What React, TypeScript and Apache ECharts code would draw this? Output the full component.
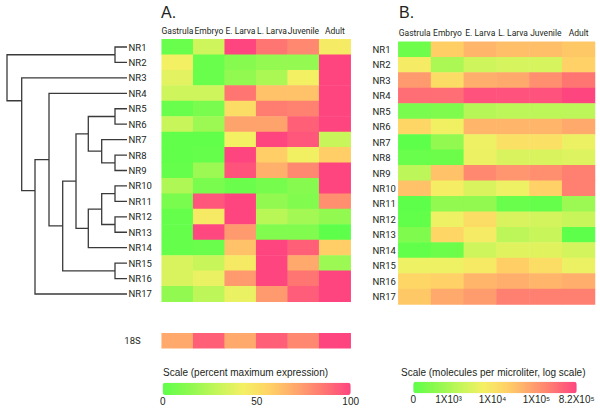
import React, { useEffect, useRef } from 'react';
import * as echarts from 'echarts';

const stages = ['Gastrula', 'Embryo', 'E. Larva', 'L. Larva', 'Juvenile', 'Adult'];
const genes = ['NR1', 'NR2', 'NR3', 'NR4', 'NR5', 'NR6', 'NR7', 'NR8', 'NR9', 'NR10', 'NR11', 'NR12', 'NR13', 'NR14', 'NR15', 'NR16', 'NR17'];

// Panel A: percent of maximum expression (rows = genes, cols = stages)
const percentA: number[][] = [
  [3, 32, 100, 86, 80, 45],
  [43, 3, 12, 16, 16, 100],
  [38, 3, 15, 22, 43, 100],
  [32, 32, 86, 62, 62, 100],
  [3, 8, 52, 84, 82, 100],
  [30, 18, 72, 72, 92, 100],
  [1, 1, 43, 100, 95, 30],
  [1, 2, 100, 58, 42, 58],
  [2, 18, 96, 68, 80, 100],
  [23, 8, 4, 7, 12, 100],
  [8, 95, 100, 15, 10, 78],
  [2, 46, 100, 26, 20, 15],
  [2, 99, 75, 10, 10, 0],
  [2, 4, 62, 100, 92, 58],
  [35, 30, 46, 100, 70, 18],
  [35, 40, 75, 100, 86, 100],
  [15, 27, 40, 75, 93, 100],
];
const percent18S = [70, 92, 70, 92, 80, 100];

// Panel B: log10(molecules per microliter)
const logMoleculesB: number[][] = [
  [2.39, 4.35, 4.65, 4.54, 4.54, 4.43],
  [3.87, 3.02, 3.39, 3.46, 3.46, 4.32],
  [4.99, 4.13, 4.73, 4.80, 5.10, 5.39],
  [5.47, 5.47, 5.77, 5.77, 5.77, 5.91],
  [2.50, 2.57, 3.13, 3.20, 3.20, 3.20],
  [4.24, 3.76, 4.65, 4.65, 4.65, 4.80],
  [2.20, 2.76, 3.72, 4.06, 4.06, 3.69],
  [2.31, 2.35, 3.69, 3.50, 3.50, 3.54],
  [3.20, 4.50, 5.17, 5.02, 5.10, 5.28],
  [4.50, 3.83, 3.50, 3.72, 4.32, 5.28],
  [2.20, 2.76, 2.76, 2.31, 2.27, 2.87],
  [2.24, 3.72, 4.13, 3.50, 3.43, 3.31],
  [2.57, 4.24, 3.87, 3.20, 3.31, 2.20],
  [2.24, 2.35, 3.39, 3.57, 3.57, 3.43],
  [3.72, 3.72, 3.91, 4.35, 4.13, 3.69],
  [4.24, 4.32, 4.65, 4.73, 4.65, 4.73],
  [4.43, 4.80, 4.95, 5.28, 5.28, 5.28],
];
const logMin = 2.2;
const logMax = 5.914;

const scaleATicks = [0, 50, 100];
const scaleBTickValues = [2.2, 3, 4, 5, 5.914];
const scaleBTickLabels = ['0', '1X10³', '1X10⁴', '1X10⁵', '8.2X10⁵'];

// Dendrogram joins: [node id, child A, child B, height, optional anchor (leaf units)]
const treeJoins: [string, string, string, number, number?][] = [
  ['n12', 'NR1', 'NR2', 1.2],
  ['n56', 'NR5', 'NR6', 1.2],
  ['n89', 'NR8', 'NR9', 1.2],
  ['n1011', 'NR10', 'NR11', 1.2],
  ['n1213', 'NR12', 'NR13', 1.2],
  ['n1516', 'NR15', 'NR16', 1.2],
  ['n789', 'NR7', 'n89', 2.53],
  ['n10_13', 'n1011', 'n1213', 2.53],
  ['n5_9', 'n56', 'n789', 3.87],
  ['n10_14', 'n10_13', 'NR14', 3.87],
  ['n5_14', 'n5_9', 'n10_14', 5.1],
  ['n5_16', 'n5_14', 'n1516', 6.43],
  ['n4_16', 'NR4', 'n5_16', 7.8],
  ['n4_17', 'n4_16', 'NR17', 9.2, 9.31],
  ['n3_17', 'NR3', 'n4_17', 10.53, 3.48],
  ['root', 'n12', 'n3_17', 12],
];

const colorRamp = ['#5eff4a', '#8ef94f', '#c3f659', '#f4f064', '#ffd166', '#ffa56d', '#ff7672', '#ff4580'];

const FONT = "Roboto, 'Liberation Sans', sans-serif";
const FONT_REG = "'Liberation Sans', Arial, sans-serif";
const INK = '#231f20';

function buildTree() {
  const pos: Record<string, { x: number; y: number }> = {};
  genes.forEach((g, i) => (pos[g] = { x: 0, y: i }));
  const segs: number[][] = [];
  treeJoins.forEach(([id, a, b, h, anchor]) => {
    const pa = pos[a];
    const pb = pos[b];
    segs.push([h, pa.y, pb.y, pa.x, pb.x]);
    pos[id] = { x: h, y: anchor !== undefined ? anchor : (pa.y + pb.y) / 2 };
  });
  return segs;
}

function toCells(rows: number[][]) {
  const out: number[][] = [];
  rows.forEach((r, yi) => r.forEach((v, xi) => out.push([xi, yi, v])));
  return out;
}

export default function App() {
  const ref = useRef<HTMLDivElement>(null);
  useEffect(() => {
    if (!ref.current) return;
    const chart = echarts.init(ref.current, undefined, { renderer: 'svg' });
    const hidden = { show: false };
    const stageAxisLabel = { margin: 4, fontSize: 8.5, color: INK, fontFamily: FONT, interval: 0 };
    const geneAxisLabel = { margin: 1.5, fontSize: 9.5, color: INK, fontFamily: FONT, interval: 0 };
    const option: any = {
      animation: false,
      backgroundColor: '#ffffff',
      title: [
        { text: 'A.', left: 161, top: 4, padding: 0, textStyle: { fontSize: 16, fontWeight: 'normal', color: INK, fontFamily: FONT_REG } },
        { text: 'B.', left: 399, top: 4, padding: 0, textStyle: { fontSize: 16, fontWeight: 'normal', color: INK, fontFamily: FONT_REG } },
        { text: 'Scale (percent maximum expression)', left: 163, top: 367, padding: 0, textStyle: { fontSize: 10, fontWeight: 'normal', color: INK, fontFamily: FONT_REG } },
        { text: 'Scale (molecules per microliter, log scale)', left: 401, top: 367, padding: 0, textStyle: { fontSize: 10, fontWeight: 'normal', color: INK, fontFamily: FONT_REG } },
      ],
      grid: [
        { left: 7, top: 39.3, width: 120, height: 262.4 },
        { left: 161.7, top: 39.3, width: 189, height: 262.4 },
        { left: 398.3, top: 41.7, width: 196.7, height: 262.7 },
        { left: 161.7, top: 333.3, width: 189, height: 15 },
        { left: 162.7, top: 382.7, width: 188, height: 12.3 },
        { left: 413.3, top: 381.7, width: 163.4, height: 11.6 },
        { left: 370, top: 41.7, width: 1, height: 262.7 },
      ],
      xAxis: [
        { type: 'value', gridIndex: 0, min: 0, max: 12, inverse: true, show: false },
        { type: 'category', gridIndex: 1, data: stages, position: 'top', axisLine: hidden, axisTick: hidden, splitLine: hidden, axisLabel: stageAxisLabel },
        { type: 'category', gridIndex: 2, data: stages, position: 'top', axisLine: hidden, axisTick: hidden, splitLine: hidden, axisLabel: stageAxisLabel },
        { type: 'category', gridIndex: 3, data: stages, show: false },
        {
          type: 'value', gridIndex: 4, min: 0, max: 100, position: 'bottom',
          axisLine: hidden, axisTick: hidden, splitLine: hidden,
          axisLabel: { customValues: scaleATicks, margin: 1, fontSize: 10, color: INK, fontFamily: FONT_REG },
        },
        {
          type: 'value', gridIndex: 5, min: logMin, max: logMax, position: 'bottom',
          axisLine: hidden, axisTick: hidden, splitLine: hidden,
          axisLabel: {
            customValues: scaleBTickValues, margin: 1, fontSize: 10, color: INK, fontFamily: FONT_REG,
            formatter: (v: number) => {
              const i = scaleBTickValues.findIndex((t) => Math.abs(t - v) < 1e-6);
              return i >= 0 ? scaleBTickLabels[i] : '';
            },
          },
        },
        { type: 'value', gridIndex: 6, show: false },
      ],
      yAxis: [
        { type: 'value', gridIndex: 0, min: -0.5, max: 16.5, inverse: true, show: false },
        { type: 'category', gridIndex: 0, data: genes, inverse: true, position: 'right', axisLine: hidden, axisTick: hidden, splitLine: hidden, axisLabel: geneAxisLabel },
        { type: 'category', gridIndex: 1, data: genes, inverse: true, show: false },
        { type: 'category', gridIndex: 2, data: genes, inverse: true, show: false },
        { type: 'category', gridIndex: 3, data: ['18S'], axisLine: hidden, axisTick: hidden, splitLine: hidden, axisLabel: { margin: 21, fontSize: 9.5, color: INK, fontFamily: FONT } },
        { type: 'value', gridIndex: 4, show: false },
        { type: 'value', gridIndex: 5, show: false },
        { type: 'category', gridIndex: 6, data: genes, inverse: true, position: 'right', axisLine: hidden, axisTick: hidden, splitLine: hidden, axisLabel: geneAxisLabel },
      ],
      visualMap: [
        {
          type: 'continuous', seriesIndex: [1, 3], min: 0, max: 100, orient: 'horizontal',
          left: 162.7, top: 382.7, itemWidth: 12.3, itemHeight: 188, padding: 0, calculable: false,
          inRange: { color: colorRamp }, textStyle: { fontSize: 0 }, hoverLink: false,
        },
        {
          type: 'continuous', seriesIndex: [2], min: logMin, max: logMax, orient: 'horizontal',
          left: 413.3, top: 381.7, itemWidth: 11.6, itemHeight: 163.4, padding: 0, calculable: false,
          inRange: { color: colorRamp }, textStyle: { fontSize: 0 }, hoverLink: false,
        },
      ],
      series: [
        {
          type: 'custom', xAxisIndex: 0, yAxisIndex: 0, silent: true, clip: false,
          data: buildTree(),
          encode: { x: [0, 3, 4], y: [1, 2] },
          renderItem: (params: any, api: any) => {
            const h = api.value(0), ya = api.value(1), yb = api.value(2), xa = api.value(3), xb = api.value(4);
            const points = [api.coord([xa, ya]), api.coord([h, ya]), api.coord([h, yb]), api.coord([xb, yb])];
            return { type: 'polyline', shape: { points }, style: { stroke: '#3a3a3a', lineWidth: 1.3, fill: 'none' } };
          },
        },
        { type: 'heatmap', xAxisIndex: 1, yAxisIndex: 2, data: toCells(percentA), silent: true },
        { type: 'heatmap', xAxisIndex: 2, yAxisIndex: 3, data: toCells(logMoleculesB), silent: true },
        { type: 'heatmap', xAxisIndex: 3, yAxisIndex: 4, data: percent18S.map((v, i) => [i, 0, v]), silent: true },
      ],
    };
    chart.setOption(option);
    return () => chart.dispose();
  }, []);
  return <div ref={ref} style={{ position: 'fixed', left: 0, top: 0, width: 600, height: 410 }} />;
}
